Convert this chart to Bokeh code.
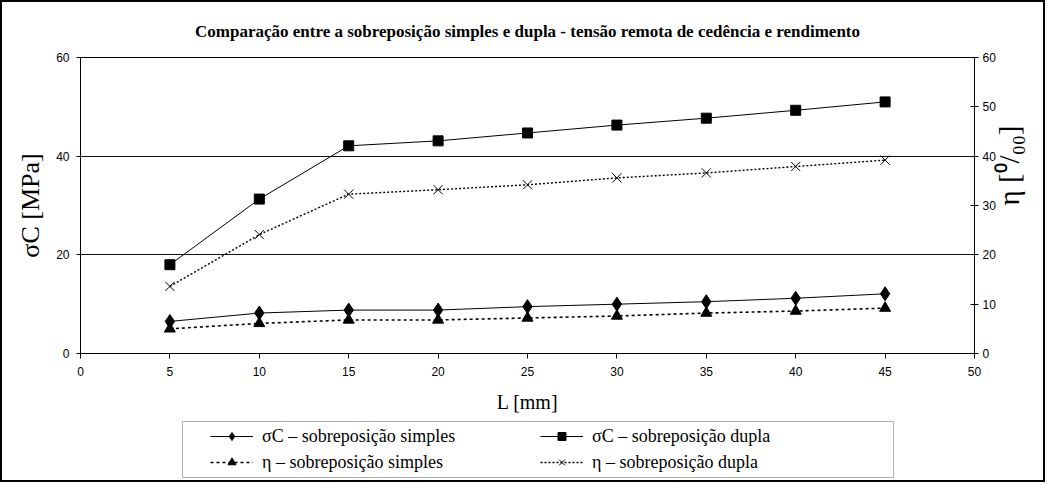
import math
from bokeh.plotting import figure
from bokeh.layouts import column
from bokeh.models import Range1d, LinearAxis, FixedTicker, Legend, LegendItem, BoxAnnotation
from bokeh.embed import file_html
from bokeh.resources import INLINE

# ---- data ----
L_mm = [5, 10, 15, 20, 25, 30, 35, 40, 45]
sigma_simples = [6.5, 8.2, 8.8, 8.8, 9.5, 10.0, 10.5, 11.2, 12.1]
sigma_dupla = [18.0, 31.3, 42.1, 43.1, 44.7, 46.3, 47.7, 49.3, 51.0]
eta_simples = [5.0, 6.1, 6.8, 6.8, 7.2, 7.6, 8.2, 8.6, 9.2]
eta_dupla = [13.6, 24.1, 32.3, 33.2, 34.2, 35.6, 36.6, 37.9, 39.2]

x_ticks = [0, 5, 10, 15, 20, 25, 30, 35, 40, 45, 50]
y_left_ticks = [0, 20, 40, 60]
y_right_ticks = [0, 10, 20, 30, 40, 50, 60]

title_text = "Comparação entre a sobreposição simples e dupla - tensão remota de cedência e rendimento"
x_label = "L [mm]"
y_left_label = "σC [MPa]"
y_right_label = "η [⁰/₀₀]"
legend_labels = ["σC – sobreposição simples", "σC – sobreposição dupla",
                 "η – sobreposição simples", "η – sobreposição dupla"]

SERIF = "Liberation Serif"
SANS = "Liberation Sans"

# series styles (shared by plot and legend samples)
styles = [
    dict(marker="diamond", size=14, dash="solid", lw=1.0),
    dict(marker="square", size=10, dash="solid", lw=1.0),
    dict(marker="triangle", size=11, dash="3 3", lw=1.6),
    dict(marker="x", size=13, dash="2 2", lw=1.4),
]

# ---------------- main chart ----------------
p = figure(frame_width=894, frame_height=296, output_backend="svg", toolbar_location=None,
           x_range=Range1d(0, 50), y_range=Range1d(0, 60),
           min_border_left=78, min_border_right=56, min_border_top=55, min_border_bottom=66,
           background_fill_color="white", border_fill_color="white")
p.extra_y_ranges = {"eta": Range1d(0, 60)}

p.title.text = title_text
p.title.text_font = SERIF
p.title.text_font_style = "bold"
p.title.text_font_size = "17px"
p.title.text_color = "black"
p.title.align = "center"
p.title.standoff = 34

p.outline_line_color = "black"
p.xgrid.visible = False
p.ygrid.ticker = FixedTicker(ticks=[20, 40, 60])
p.ygrid.grid_line_color = "#111111"
p.ygrid.grid_line_width = 1

xa = p.xaxis[0]
xa.ticker = FixedTicker(ticks=x_ticks)
xa.major_tick_out = 5
xa.major_tick_in = 0
xa.major_label_standoff = 8
xa.axis_label = x_label
xa.axis_label_standoff = 12
xa.axis_label_text_font_size = "20px"

ya = p.yaxis[0]
ya.ticker = FixedTicker(ticks=y_left_ticks)
ya.major_tick_out = 4
ya.major_tick_in = 0
ya.major_label_standoff = 7
ya.axis_label = y_left_label
ya.axis_label_standoff = 8
ya.axis_label_text_font_size = "26px"

yr = LinearAxis(y_range_name="eta", ticker=FixedTicker(ticks=y_right_ticks))
yr.major_tick_out = 4
yr.major_tick_in = 4
yr.major_label_standoff = 4
yr.axis_label = y_right_label
yr.axis_label_standoff = 10
yr.axis_label_text_font_size = "29px"
yr.axis_label_orientation = math.pi / 2
p.add_layout(yr, "right")

for ax in (xa, ya, yr):
    ax.minor_tick_line_color = None
    ax.axis_line_color = "black"
    ax.major_tick_line_color = "black"
    ax.major_label_text_font = SANS
    ax.major_label_text_font_size = "12px"
    ax.major_label_text_color = "black"
    ax.axis_label_text_font = SERIF
    ax.axis_label_text_font_style = "normal"
    ax.axis_label_text_color = "black"

series = [(sigma_simples, "default"), (sigma_dupla, "default"),
          (eta_simples, "eta"), (eta_dupla, "eta")]
for (vals, rng), st in zip(series, styles):
    p.line(L_mm, vals, line_color="black", line_width=st["lw"], line_dash=st["dash"],
           y_range_name=rng)
    p.scatter(L_mm, vals, marker=st["marker"], size=st["size"], fill_color="black",
              line_color="black", line_width=1, y_range_name=rng)

# ---------------- legend strip (page-pixel coordinates) ----------------
q = figure(frame_width=894, frame_height=61, output_backend="svg", toolbar_location=None,
           x_range=Range1d(80, 974), y_range=Range1d(480, 419),
           x_axis_location=None, y_axis_location=None,
           min_border_left=78, min_border_right=56, min_border_top=0, min_border_bottom=0,
           background_fill_color="white", border_fill_color="white")
q.grid.visible = False
q.outline_line_color = None

q.add_layout(BoxAnnotation(left=182, right=893, top=421, bottom=477, fill_alpha=0,
                           line_color="black", line_width=1))

nan = float("nan")
items = []
for lab, st in zip(legend_labels, styles):
    rl = q.line(x=[nan], y=[nan], line_color="black", line_width=st["lw"], line_dash=st["dash"])
    rm = q.scatter(x=[nan], y=[nan], marker=st["marker"], size=st["size"], fill_color="black",
                   line_color="black", line_width=1)
    items.append(LegendItem(label=lab, renderers=[rl, rm]))

legend = Legend(items=items, orientation="horizontal", nrows=2, location=(130, 5),
                label_text_font=SERIF, label_text_font_size="18px", label_text_color="black",
                glyph_width=43, glyph_height=20, label_width=278, label_height=26,
                label_standoff=9, spacing=0, padding=0, margin=0,
                border_line_color=None, background_fill_alpha=0)
q.add_layout(legend, "center")

layout = column(p, q, spacing=0)
layout.styles = {"border": "2px solid black"}

open("out.html", "w").write(file_html(layout, INLINE))
